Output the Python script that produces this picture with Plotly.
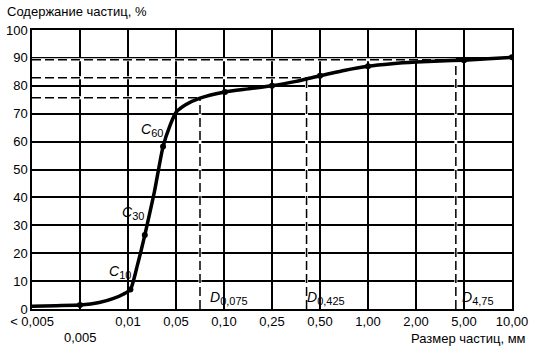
import plotly.graph_objects as go

# x positions are category indices (equal spacing on the chart)
tick_labels = ["< 0,005", "0,005", "0,01", "0,05", "0,10", "0,25", "0,50", "1,00", "2,00", "5,00", "10,00"]
tick_pos = list(range(11))
low_label_idx = 1  # this label sits on a second row in the reference

# curve (index position, % content)
curve_x = [0, 0.5, 1, 1.4, 1.7, 1.9, 2.05, 2.2, 2.35, 2.55, 2.73, 2.88, 3.0, 3.2, 3.5, 4.02, 4.5, 5, 5.5, 6, 6.5, 7, 7.5, 8, 8.5, 9, 9.5, 10]
curve_y = [1.0, 1.2, 1.4, 2.3, 3.8, 5.3, 7.0, 16.0, 26.5, 42.0, 58.2, 66.0, 70.5, 73.2, 75.6, 77.8, 78.9, 80.0, 81.6, 83.6, 85.5, 87.0, 87.9, 88.5, 88.9, 89.2, 89.7, 90.2]

# measured points (markers)
pts_x = [1, 2.05, 2.35, 2.73, 4.02, 5, 6, 7, 9, 10]
pts_y = [1.4, 7.0, 26.5, 58.2, 77.8, 80.0, 83.6, 87.0, 89.2, 90.2]

# characteristic sizes D (index position, % content)
d_x = [3.5, 5.72, 8.83]
d_y = [75.7, 82.9, 89.3]
d_names = ["0,075", "0,425", "4,75"]

c_names = ["10", "30", "60"]
c_pos = [(1.83, 13.3), (2.11, 34.4), (2.51, 64.2)]

FONT = "Liberation Sans, Arial, sans-serif"
SUB = '<sub><span style="font-size:11px;color:black">{}</span></sub>'

fig = go.Figure()
fig.add_trace(go.Scatter(x=curve_x, y=curve_y, mode="lines", line=dict(color="black", width=3.5, shape="spline", smoothing=0.6), hoverinfo="skip"))
fig.add_trace(go.Scatter(x=pts_x, y=pts_y, mode="markers", marker=dict(color="black", size=6)))

shapes = []
for xv, yv in zip(d_x, d_y):
    for (x0, y0, x1, y1) in [(0, yv, xv, yv), (xv, 0, xv, yv)]:
        shapes.append(dict(type="line", xref="x", yref="y", x0=x0, y0=y0, x1=x1, y1=y1,
                           line=dict(color="white", width=3), layer="between"))
        shapes.append(dict(type="line", xref="x", yref="y", x0=x0, y0=y0, x1=x1, y1=y1,
                           line=dict(color="black", width=1.5, dash="9px,4px"), layer="between"))

annotations = []
d_shift = [8, -2, 4]
for xv, name, sh in zip(d_x, d_names, d_shift):
    annotations.append(dict(x=xv, y=4, xref="x", yref="y", text="<i>D</i>" + SUB.format(name), showarrow=False,
                            xanchor="left", yanchor="middle", xshift=sh,
                            font=dict(size=14, color="black", family=FONT)))
for (xv, yv), name in zip(c_pos, c_names):
    annotations.append(dict(x=xv, y=yv, xref="x", yref="y", text="<i>C</i>" + SUB.format(name), showarrow=False,
                            xanchor="center", yanchor="middle", font=dict(size=14, color="black", family=FONT)))
annotations.append(dict(x=tick_pos[low_label_idx], y=0, xref="x", yref="paper", text=tick_labels[low_label_idx],
                        showarrow=False, xanchor="center", yanchor="middle", yshift=-28,
                        font=dict(size=13, color="black", family=FONT)))
annotations.append(dict(x=0, y=1, xref="paper", yref="paper", text="Содержание частиц, %", showarrow=False,
                        xanchor="left", yanchor="bottom", xshift=-27, yshift=9, font=dict(size=13, color="black", family=FONT)))
annotations.append(dict(x=1, y=0, xref="paper", yref="paper", text="Размер частиц, мм", showarrow=False,
                        xanchor="right", yanchor="middle", xshift=16, yshift=-29, font=dict(size=13, color="black", family=FONT)))

axis_text = [("" if i == low_label_idx else t) for i, t in enumerate(tick_labels)]

fig.update_layout(
    width=536, height=352,
    margin=dict(l=32, r=24, t=30, b=43),
    paper_bgcolor="white", plot_bgcolor="white",
    showlegend=False,
    shapes=shapes, annotations=annotations,
    font=dict(family=FONT, size=13, color="black"),
)
fig.update_xaxes(range=[0, 10], tickvals=tick_pos, ticktext=axis_text, showgrid=True, automargin=False,
                 gridcolor="black", gridwidth=1.5, showline=True, linecolor="black", linewidth=1.5,
                 mirror=True, ticks="", zeroline=False, tickfont=dict(size=13))
fig.update_yaxes(range=[0, 100], dtick=10, showgrid=True, gridcolor="black", gridwidth=1.5, automargin=False,
                 showline=True, linecolor="black", linewidth=1.5, mirror=True, ticks="",
                 zeroline=False, tickfont=dict(size=13))

fig.write_html("out.html")
